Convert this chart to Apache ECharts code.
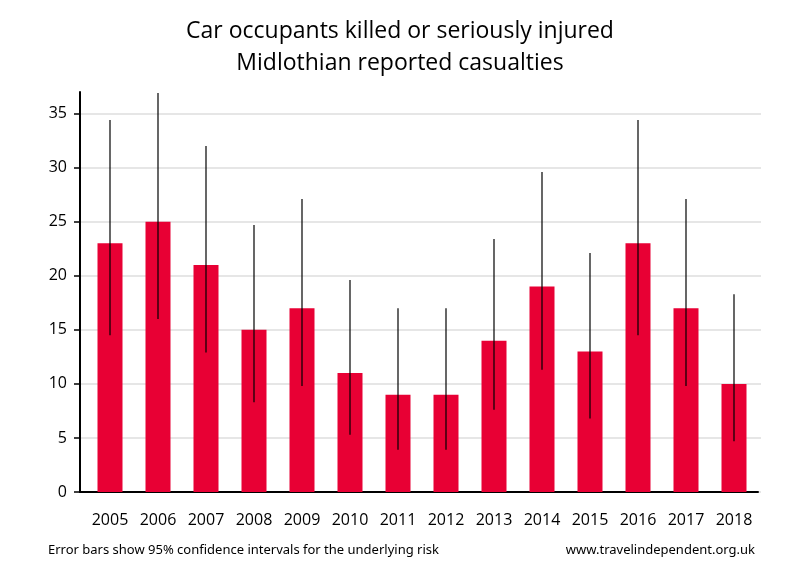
<!DOCTYPE html>
<html>
<head>
<meta charset="utf-8">
<script src="https://cdn.jsdelivr.net/npm/echarts@6/dist/echarts.min.js"></script>
<style>html,body{margin:0;padding:0;background:#fff}#c{width:800px;height:580px}</style>
</head>
<body>
<div id="c"></div>
<script>
const titleLines = ['Car occupants killed or seriously injured', 'Midlothian reported casualties'];
const footLeft = 'Error bars show 95% confidence intervals for the underlying risk';
const footRight = 'www.travelindependent.org.uk';
const years = ['2005','2006','2007','2008','2009','2010','2011','2012','2013','2014','2015','2016','2017','2018'];
const casualties = [23, 25, 21, 15, 17, 11, 9, 9, 14, 19, 13, 23, 17, 10];
const ciLow  = [14.5, 16.0, 12.9, 8.3, 9.8, 5.3, 3.9, 3.9, 7.6, 11.3, 6.8, 14.5, 9.8, 4.7];
const ciHigh = [34.4, 36.9, 32.0, 24.7, 27.1, 19.6, 17.0, 17.0, 23.4, 29.6, 22.1, 34.4, 27.1, 18.3];
const yTickMax = 35;
const yAxisMax = 37;
const yInterval = 5;

const chart = echarts.init(document.getElementById('c'), null, {renderer: 'canvas'});
const font = "'Open Sans', 'Noto Sans', sans-serif";
const errData = years.map((y, i) => [i, ciLow[i], ciHigh[i]]);

chart.setOption({
  animation: false,
  backgroundColor: '#fff',
  textStyle: {fontFamily: font},
  title: {
    text: titleLines.join('\n'),
    left: 'center', top: 10,
    textStyle: {fontFamily: font, fontSize: 23, fontWeight: 'normal', color: '#000', lineHeight: 32}
  },
  graphic: [
    {type: 'text', left: 48, top: 544, style: {text: footLeft, font: "13px 'Noto Sans'", fill: '#000'}},
    {type: 'text', right: 45, top: 544, style: {text: footRight, font: "13px 'Noto Sans'", fill: '#000'}}
  ],
  grid: [
    {left: 80, right: 42, top: 92, bottom: 88},
    {left: 80, right: 39, top: 92 + 400 * (yAxisMax - yTickMax) / yAxisMax, bottom: 88},
    {left: 86, right: 42, top: 92, bottom: 88}
  ],
  xAxis: [
    {gridIndex: 0, type: 'category', data: years, axisLine: {lineStyle: {color: '#000', width: 2}},
     axisTick: {show: false}, axisLabel: {show: false}, splitLine: {show: false}},
    {gridIndex: 1, type: 'category', data: years, show: false},
    {gridIndex: 2, type: 'category', data: years, axisLine: {show: false}, axisTick: {show: false},
     axisLabel: {color: '#000', fontSize: 16, margin: 20, fontFamily: font}}
  ],
  yAxis: [
    {gridIndex: 0, type: 'value', min: 0, max: yAxisMax,
     axisLine: {show: true, lineStyle: {color: '#000', width: 2}},
     axisTick: {show: false}, axisLabel: {show: false}, splitLine: {show: false}},
    {gridIndex: 1, type: 'value', min: 0, max: yTickMax, interval: yInterval,
     axisLine: {show: false},
     axisTick: {show: true, length: 6, lineStyle: {color: '#000', width: 1.5}},
     axisLabel: {color: '#000', fontSize: 16, margin: 13, fontFamily: font},
     splitLine: {show: true, lineStyle: {color: '#e6e6e6', width: 2}}},
    {gridIndex: 2, type: 'value', min: 0, max: yAxisMax, show: false}
  ],
  series: [
    {type: 'bar', xAxisIndex: 2, yAxisIndex: 2, data: casualties, barWidth: 25,
     itemStyle: {color: '#e80034'}, z: 2},
    {type: 'custom', xAxisIndex: 2, yAxisIndex: 2, data: errData, z: 3,
     renderItem: function (params, api) {
       const p1 = api.coord([api.value(0), api.value(1)]);
       const p2 = api.coord([api.value(0), api.value(2)]);
       return {type: 'line', shape: {x1: p1[0], y1: p1[1], x2: p2[0], y2: p2[1]},
               style: {stroke: '#000', lineWidth: 1.2}};
     }}
  ]
});
</script>
</body>
</html>
